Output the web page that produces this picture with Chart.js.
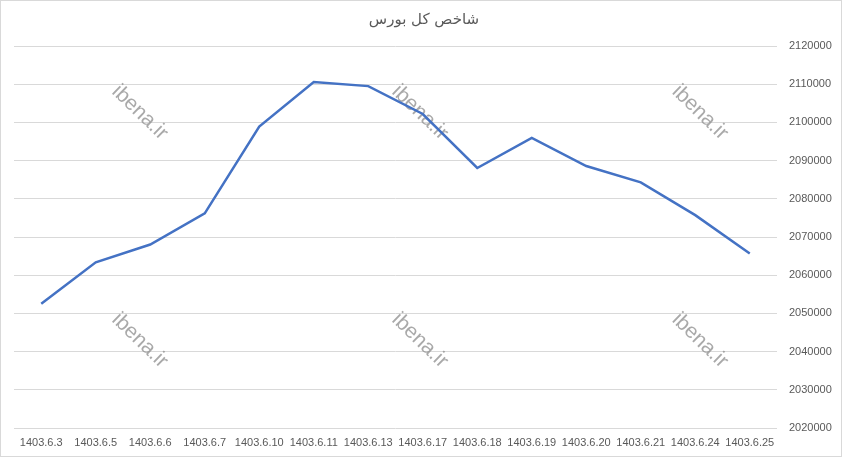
<!DOCTYPE html>
<html>
<head>
<meta charset="utf-8">
<script src="https://cdn.jsdelivr.net/npm/chart.js@4"></script>
<style>
  html, body { margin: 0; padding: 0; background: #fff; }
  #wrap { width: 842px; height: 457px; position: relative; }
</style>
</head>
<body>
<div id="wrap"><canvas id="c"></canvas></div>
<script>
'use strict';

const TITLE = 'شاخص کل بورس';
const DATES = ['1403.6.3','1403.6.5','1403.6.6','1403.6.7','1403.6.10','1403.6.11','1403.6.13',
               '1403.6.17','1403.6.18','1403.6.19','1403.6.20','1403.6.21','1403.6.24','1403.6.25'];
const INDEX = [2052550, 2063390, 2068030, 2076170, 2098900, 2110550, 2109500,
               2102200, 2088060, 2095930, 2088580, 2084300, 2075720, 2065670];
const Y_MIN = 2020000, Y_MAX = 2120000, Y_STEP = 10000;
const WATERMARK = 'ibena.ir';

const TXT = '#595959';
const GRID = '#d9d9d9';
const LINE = '#4472c4';
const TICK_FONT = { family: '"Liberation Sans", Arial, sans-serif', size: 11 };

/* タイトル・枠・透かし */
const decor = {
  id: 'decor',
  beforeDatasetsDraw(chart) {
    const { ctx, chartArea: a } = chart;
    const w = a.right - a.left, h = a.bottom - a.top;
    const xs = [0.165, 0.532, 0.899].map(f => a.left + w * f);
    const ys = [0.174, 0.771].map(f => a.top + h * f);
    ctx.save();
    ctx.font = '21px "Liberation Sans", Arial, sans-serif';
    ctx.fillStyle = 'rgba(140,140,140,0.75)';
    ctx.textAlign = 'center';
    ctx.textBaseline = 'middle';
    ys.forEach(y => xs.forEach(x => {
      ctx.save();
      ctx.translate(x, y);
      ctx.rotate(44 * Math.PI / 180);
      ctx.fillText(WATERMARK, 0, 0);
      ctx.restore();
    }));
    ctx.restore();
  },
  afterDraw(chart) {
    const { ctx, width, height } = chart;
    ctx.save();
    ctx.strokeStyle = GRID;
    ctx.lineWidth = 1;
    ctx.strokeRect(0.5, 0.5, width - 1, height - 1);
    ctx.font = '15px "DejaVu Sans", sans-serif';
    ctx.fillStyle = TXT;
    ctx.textAlign = 'center';
    ctx.textBaseline = 'middle';
    ctx.fillText(TITLE, width / 2 + 3, 20);
    ctx.restore();
  }
};

new Chart(document.getElementById('c'), {
  type: 'line',
  data: {
    labels: DATES,
    datasets: [{
      data: INDEX,
      borderColor: LINE,
      borderWidth: 2.5,
      pointRadius: 0,
      tension: 0,
      fill: false,
    }],
  },
  options: {
    responsive: true,
    maintainAspectRatio: false,
    animation: false,
    layout: { padding: { left: 14, right: 0, top: 46, bottom: 0 } },
    plugins: { legend: { display: false }, tooltip: { enabled: false } },
    scales: {
      x: {
        offset: true,
        grid: { display: false, drawTicks: false },
        border: { display: false },
        ticks: { color: TXT, font: TICK_FONT, padding: 8, maxRotation: 0, autoSkip: false },
        afterFit(s) { s.height = 29; },
      },
      y: {
        position: 'right',
        min: Y_MIN, max: Y_MAX,
        grid: { color: GRID, lineWidth: 1, drawTicks: false },
        border: { display: false },
        ticks: { stepSize: Y_STEP, color: TXT, padding: 12, font: TICK_FONT, callback: v => String(v) },
        afterFit(s) { s.width = 65; },
      },
    },
  },
  plugins: [decor],
});
</script>
</body>
</html>
